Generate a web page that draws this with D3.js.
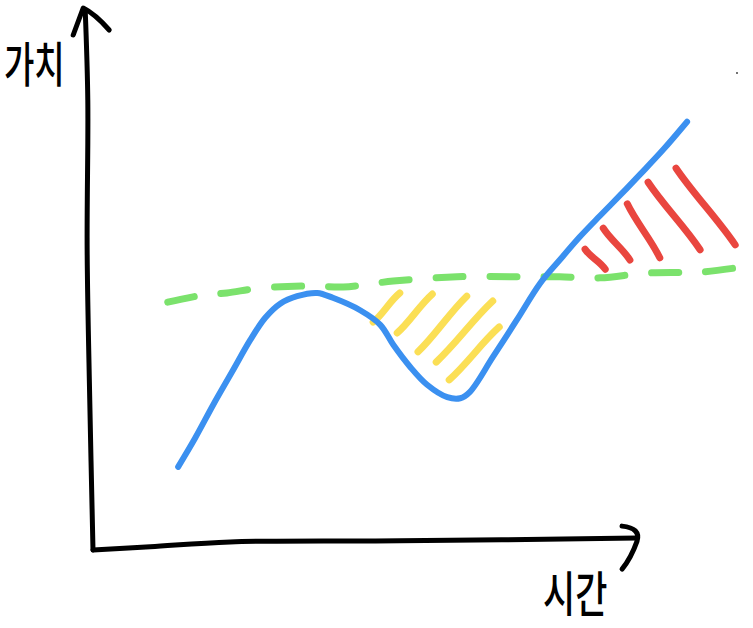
<!DOCTYPE html>
<html><head><meta charset="utf-8">
<script src="https://cdn.jsdelivr.net/npm/d3@7"></script>
<style>html,body{margin:0;padding:0;background:#fff;}svg{display:block;}</style>
</head><body>
<svg id="c" width="753" height="628"></svg>
<script>
// ---- data (time 0..100, value 0..100) ----
const valueTime  = [13.1,15.7,18.5,21.4,24.2,26.5,28.8,31.4,34.5,36.9,41.1,44.2,46.2,48.8,51.4,54.5,56.5,58.0,61.5,65.2,68.8,71.8,74.9,78.0,81.1,84.2,87.7,91.4];
const valueLevel = [15.4,20.7,26.9,33.0,38.9,43.0,45.6,47.0,47.6,46.7,44.4,41.7,38.0,33.9,30.6,28.3,28.1,29.3,35.7,42.6,49.4,53.7,58.0,61.9,65.7,69.6,74.1,79.3];
const baseTime   = [11.5,16.9,20.6,25.7,33.8,38.5,46.2,56.0,65.2,71.8,78.0,85.2,93.8,99.8];
const baseLevel  = [45.9,47.2,47.6,48.5,48.9,48.7,49.8,50.6,50.6,50.6,50.4,51.3,51.5,52.4];
// shaded below-baseline hatch (start time, start value, end time, end value)
const lossHatch = [[43.1,42.2,47.2,47.6],[46.8,40.2,52.2,47.4],[50.0,36.7,57.5,47.0],[52.8,34.8,61.5,46.1],[54.8,31.5,62.5,41.3]];
// above-baseline hatch
const gainHatch = [[75.7,55.7,78.8,52.0],[78.5,59.6,82.6,53.7],[82.2,64.1,87.2,54.1],[85.4,68.1,93.4,55.6],[89.7,70.7,98.8,56.5]];
const yAxisPts = [[-1.2,100],[-0.8,83.3],[-0.9,55.6],[-0.5,27.8],[0,0]];
const xAxisPts = [[0,0],[8.8,0.6],[21.1,1.5],[47.2,1.7],[83.7,2.2]];
const yLabel = "가치";
const xLabel = "시간";

const svg = d3.select("#c");
const x = d3.scaleLinear().domain([0,100]).range([93,743]);
const y = d3.scaleLinear().domain([0,100]).range([550,10]);
const line = d3.line().x(d=>x(d[0])).y(d=>y(d[1])).curve(d3.curveCatmullRom);

// axes
svg.append("path").attr("d", line(yAxisPts)).attr("fill","none").attr("stroke","#000").attr("stroke-width",5).attr("stroke-linecap","round");
svg.append("path").attr("d", line(xAxisPts)).attr("fill","none").attr("stroke","#000").attr("stroke-width",5).attr("stroke-linecap","round");
const yt = [x(yAxisPts[0][0]), y(yAxisPts[0][1])];
svg.append("path").attr("d",`M${yt[0]-12},${yt[1]+25} L${yt[0]-2},${yt[1]-2} Q${yt[0]+10},${yt[1]+4} ${yt[0]+24},${yt[1]+20}`)
  .attr("fill","none").attr("stroke","#000").attr("stroke-width",5).attr("stroke-linecap","round").attr("stroke-linejoin","round");
const xt = [x(xAxisPts[4][0]), y(xAxisPts[4][1])];
svg.append("path").attr("d",`M${xt[0]-15},${xt[1]-12} Q${xt[0]+4},${xt[1]-10} ${xt[0]},${xt[1]+3} Q${xt[0]-6},${xt[1]+20} ${xt[0]-15},${xt[1]+31}`)
  .attr("fill","none").attr("stroke","#000").attr("stroke-width",5).attr("stroke-linecap","round").attr("stroke-linejoin","round");

// baseline (green dashed)
svg.append("path").attr("d", line(baseTime.map((t,i)=>[t,baseLevel[i]])))
  .attr("fill","none").attr("stroke","#7be26c").attr("stroke-width",7).attr("stroke-linecap","round")
  .attr("stroke-dasharray","27,27");

// hatches (slightly wavy strokes)
const hatch = (data,color)=>svg.append("g").selectAll("path").data(data).join("path")
  .attr("d",d=>{const x0=x(d[0]),y0=y(d[1]),x1=x(d[2]),y1=y(d[3]);
     const dx=x1-x0, dy=y1-y0, L=Math.hypot(dx,dy), nx=-dy/L*2, ny=dx/L*2;
     return `M${x0},${y0} C${x0+dx/3+nx},${y0+dy/3+ny} ${x0+2*dx/3-nx},${y0+2*dy/3-ny} ${x1},${y1}`;})
  .attr("fill","none").attr("stroke",color).attr("stroke-width",7).attr("stroke-linecap","round");
hatch(lossHatch,"#fbdf55");
hatch(gainHatch,"#e9463f");

// value line (blue)
svg.append("path").attr("d", line(valueTime.map((t,i)=>[t,valueLevel[i]])))
  .attr("fill","none").attr("stroke","#3b90f0").attr("stroke-width",6).attr("stroke-linecap","round").attr("stroke-linejoin","round");

// labels
svg.append("text").text(yLabel).attr("transform","translate(4,82) scale(1,1.45)")
  .attr("font-family","'Noto Sans CJK KR'").attr("font-size",33).attr("font-weight",500).attr("fill","#000");
svg.append("text").text(xLabel).attr("transform","translate(543,612) scale(1,1.4)")
  .attr("font-family","'Noto Sans CJK KR'").attr("font-size",35).attr("font-weight",500).attr("fill","#000");
svg.append("circle").attr("cx",737).attr("cy",73).attr("r",1).attr("fill","#444");
</script>
</body></html>
